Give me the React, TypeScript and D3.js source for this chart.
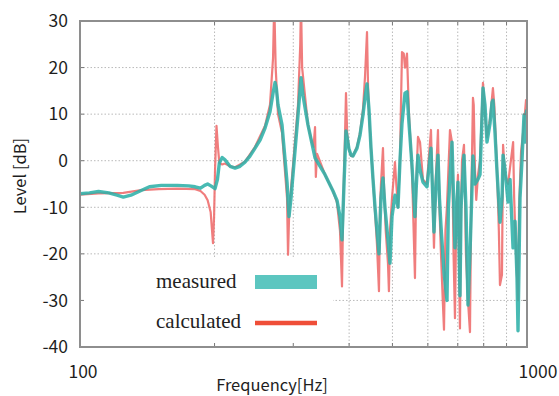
import React from "react";
import * as d3 from "d3";

const measuredFreq = [100,105,110,116,121,125,130,137,143,152,165,175,181,186,190,193,196.3,200.5,203,205,208,211,216.6,222.3,228,233.9,240,246.4,253,259.4,266.1,270.3,273.1,275,277.3,283.1,290.5,293.5,296.5,299.6,307.4,312.2,315.4,323.6,335.6,353.3,368.1,375.8,381.6,385.6,389.6,393.6,396,399.7,404,408,416.6,423.1,429.6,434.1,438.6,443.1,447.7,452.4,457.1,461.7,466.5,471.3,476.2,481.1,488.6,493.7,498.9,506.6,510,514.5,519.8,525.2,533.4,538.9,544.5,552.9,561.5,565,570.3,576.3,585.2,597.4,609.8,614,619.3,625.7,632.2,637,642,652.1,662.2,667,679.5,690,700.8,708,712,722.8,730.2,737.9,745.5,757.1,764.9,776.8,785,797.2,805.4,813.8,826.5,835,839.3,848.1,856.9,870.3,879.4,884,893,906.9,916.3,930.6,940.3,949.8,954.8,964.6,974.5,984.7,990,995,1000];
const measuredLevel = [-7.1,-6.9,-6.6,-6.9,-7.4,-7.8,-7.4,-6.4,-5.6,-5.3,-5.3,-5.4,-5.6,-5.9,-5.3,-5.0,-5.4,-6.0,-4,-0.5,0.7,0.2,-1.2,-1.6,-1.2,-0.3,1.0,2.7,4.5,7.0,10.5,14.5,16.8,15.5,12,7.7,-4.6,-12.0,-8,-3,9.8,17.8,14,7.7,0.6,-3,-6.5,-8.5,-12,-17,-5,6.4,5,2.5,1.2,1.0,2.7,5.5,9.8,13.5,16.5,11,2.7,-4,-10,-15,-20,-8,-3.7,-10,-17,-22,-12,-7.4,-8,-10,0,8,14.5,14.8,8,-0.9,-12,-6,1.2,-2,-4.6,-5.6,2.7,-5,-15.3,-5,1.2,-8,-14,-24,-30,-10,4,-18.7,-4.6,-29,-10,1.2,-10,-31,-20,1,-5,-4,-3,15.6,12,4,8,12.5,13,6,-2.4,-13.2,-8,1.2,-2,-8.9,-4,-18.7,-13,-25,-36.5,-8,0,9.8,4,10,11];

const calculatedFreq = [100,110,125,137,150,165,181,186,190,193,196,198.4,199.5,200.5,202,203.5,205,208,211,216.6,222.3,233.9,246.4,259.4,266.1,270.3,272,274,277.3,283.1,290.5,292,294,299.6,307.4,311,312.2,314,323.6,330,333,335.6,337,339,353.3,368.1,375.8,381.6,385.6,388,391.5,393.6,396,399.7,404,408,416.6,423.1,429.6,434.1,438.6,441,443.1,447.7,452.4,457.1,461.7,466.5,469,471.3,476.2,479,483,488.6,491,493.7,498.9,506.6,510,514.5,519.8,522,525.2,530,533.4,538.9,544.5,552.9,561.5,565,570.3,576.3,585,597,609.8,614,619.3,625.7,632.2,637,642,648,652.1,657,662,672.5,679.5,685,690,695,700.8,704,708,712,715.4,722.8,726,730,737.9,745.5,750,757,760,765,770,777,785,797,801,805,814,826.5,839,845,857,865,870,879,884,893,907,931,936,945,955,960,970,985,995,1000];
const calculatedLevel = [-7.3,-7.0,-6.9,-6.3,-6.1,-6.0,-6.1,-6.5,-7.3,-8.5,-11,-17.7,-12,-2,7.5,3,-0.5,-0.8,-0.6,-1.2,-1.4,-0.2,3,7.5,12,22,34,20,10,6,-8,-20.2,-10,-1,12,25,34,20,7.7,4,3,7.2,-3.5,1.5,-3,-6.5,-9,-15,-27,-10,5,14.5,6,2.5,1,1,3,6,11,18,27.6,16,10,2.7,-4,-11,-18,-28,-10,-5,2.7,-6,-15,-22,-28,-15,-8,-0.3,-5,-10,0,10,23.3,23,20,23,10,-2,-25.2,-5,5.1,4,-4,-5,6.6,-5,-18.7,-3,6.6,-10,-20,-30,-36.3,-15,-10,6.6,4,-20,-33.8,-10,-3,-20,-36,-10,0,3.4,-5,-20,-30,-36.8,-10,13.5,12,-2,-8.4,-3,0,16.7,14,10,5,9,15.6,12,-2,-15,-26.7,-24.5,3.4,-3,-5,4,-8,-20,-30,-10,2,8,13,12];

const yTicks = [30, 20, 10, 0, -10, -20, -30, -40];
const xGrid = [200, 300, 400, 500, 600, 700, 800, 900];
const xLabels = ["100", "1000"];
const legendLabels = ["measured", "calculated"];

const W = 559, H = 396;
const L = 80, R = 527, T = 21, B = 347;

export default function App() {
  const x = d3.scaleLog().domain([100, 1000]).range([L, R]);
  const y = d3.scaleLinear().domain([-40, 30]).range([B, T]);
  const line = d3.line<[number, number]>().x(d => x(d[0])).y(d => y(d[1]));
  const measured = measuredFreq.map((f, i) => [f, measuredLevel[i]] as [number, number]);
  const calculated = calculatedFreq.map((f, i) => [f, calculatedLevel[i]] as [number, number]);
  const tickFont = "'Noto Sans CJK JP', 'Noto Sans', sans-serif";

  return (
    <div style={{ position: "fixed", left: 0, top: 0, width: W, height: H, background: "#fff" }}>
      <svg width={W} height={H} style={{ display: "block" }}>
        <defs>
          <clipPath id="plotclip">
            <rect x={L} y={T} width={R - L} height={B - T} />
          </clipPath>
        </defs>
        <rect x={L} y={T} width={R - L} height={B - T} fill="#fff" />
        {yTicks.filter(t => t > -40 && t < 30).map(t => (
          <line key={"hy" + t} x1={L} x2={R} y1={y(t)} y2={y(t)} stroke="#b9b9b9" strokeWidth={1} strokeDasharray="1.5,2" />
        ))}
        {xGrid.map(g => (
          <line key={"vx" + g} x1={x(g)} x2={x(g)} y1={T} y2={B} stroke="#b9b9b9" strokeWidth={1} strokeDasharray="1.5,2" />
        ))}
        <g clipPath="url(#plotclip)">
          <path d={line(calculated) || ""} fill="none" stroke="#ee6f6f" strokeWidth={2.2} strokeLinejoin="round" opacity={0.9} />
          <path d={line(measured) || ""} fill="none" stroke="#2fb1a8" strokeWidth={3.4} strokeLinejoin="round" opacity={0.88} />
        </g>
        {/* legend */}
        <rect x={L + 1} y={259} width={252} height={B - 259 - 1} fill="#fff" />
        <text x={156} y={288} fontFamily="'Liberation Serif', 'Times New Roman', serif" fontSize={21} fill="#222">{legendLabels[0]}</text>
        <rect x={255} y={275} width={62} height={14} fill="#5cc6c0" />
        <text x={156} y={328} fontFamily="'Liberation Serif', 'Times New Roman', serif" fontSize={21} fill="#222">{legendLabels[1]}</text>
        <line x1={255} x2={317} y1={323} y2={323} stroke="#ef4e38" strokeWidth={4.5} />
        {/* ticks */}
        {yTicks.map(t => (
          <g key={"yt" + t}>
            <line x1={L} x2={L + 4} y1={y(t)} y2={y(t)} stroke="#777" strokeWidth={1} />
            <line x1={R - 4} x2={R} y1={y(t)} y2={y(t)} stroke="#777" strokeWidth={1} />
          </g>
        ))}
        {xGrid.map(g => (
          <g key={"xt" + g}>
            <line x1={x(g)} x2={x(g)} y1={T} y2={T + 4} stroke="#777" strokeWidth={1} />
            <line x1={x(g)} x2={x(g)} y1={B - 4} y2={B} stroke="#777" strokeWidth={1} />
          </g>
        ))}
        <rect x={L} y={T} width={R - L} height={B - T} fill="none" stroke="#8e8e8e" strokeWidth={2} />
        {/* y labels */}
        {yTicks.map(t => (
          <text key={"yl" + t} x={68} y={y(t)} dy="0.36em" textAnchor="end" fontFamily={tickFont} fontSize={17.5} fill="#1e1e1e">{t}</text>
        ))}
        <text x={x(100) + 3} y={378} textAnchor="middle" fontFamily={tickFont} fontSize={17.5} fill="#1e1e1e">{xLabels[0]}</text>
        <text x={x(1000) + 11} y={378} textAnchor="middle" fontFamily={tickFont} fontSize={17.5} fill="#1e1e1e">{xLabels[1]}</text>
        <text x={272} y={391} textAnchor="middle" fontFamily={tickFont} fontSize={16.5} fill="#1e1e1e">Frequency[Hz]</text>
        <text transform="translate(26,176) rotate(-90)" textAnchor="middle" fontFamily={tickFont} fontSize={16.5} fill="#1e1e1e">Level [dB]</text>
      </svg>
    </div>
  );
}
